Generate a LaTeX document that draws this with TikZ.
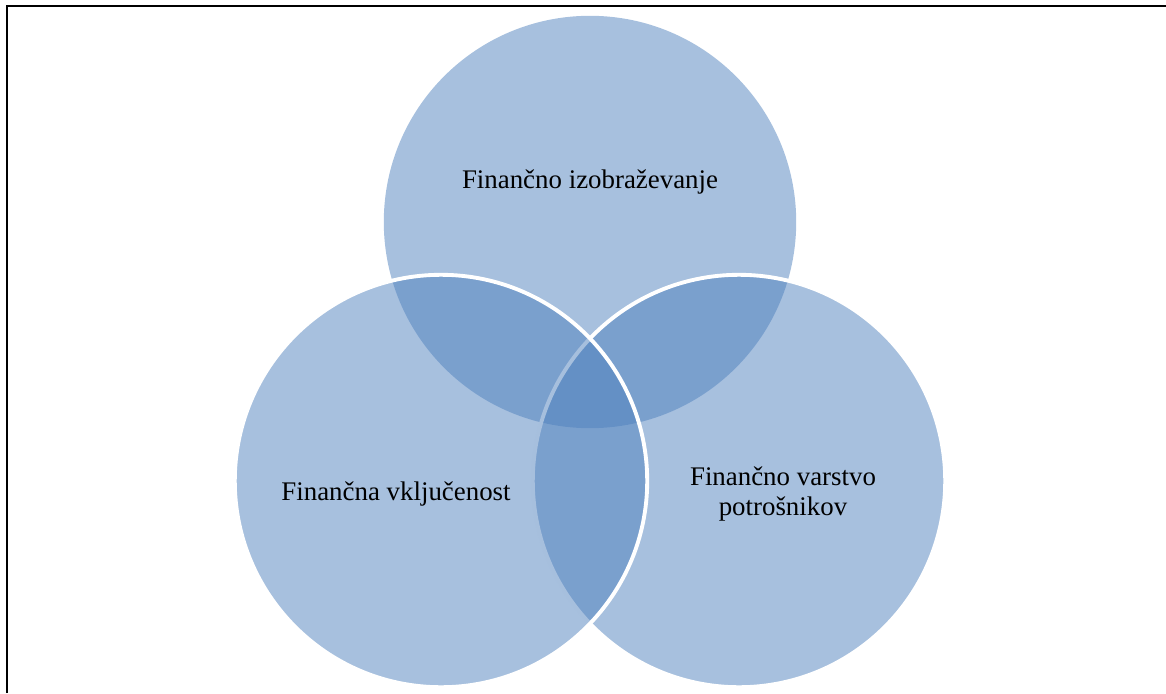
\documentclass[tikz,border=0pt]{standalone}
\usepackage{fontspec}
\setmainfont{Liberation Serif}
\usetikzlibrary{positioning,calc}
\definecolor{vennblue}{RGB}{79,129,189}
\tikzset{
    venn/.style={circle, fill=vennblue, fill opacity=0.5, minimum size=8.25cm, inner sep=0pt, outer sep=0pt},
    vennW/.style={venn, draw=white, draw opacity=1, line width=2.2pt},
    vlabel/.style={text=black, font=\fontsize{15.3}{17.5}\selectfont, align=center, inner sep=0pt},
    frame/.style={line width=1pt, black},
}
\begin{document}
\begin{tikzpicture}[x=0.02cm, y=-0.02cm]
    \useasboundingbox (0,0) rectangle (1166,693);
    % frame (top and left edge only)
    \coordinate (corner) at (7,6);
    \coordinate (frameR) at (1166,6);
    \coordinate (frameB) at (7,693);
    \draw[frame] (frameB) -- (corner) -- (frameR);
    % the three circles: top, right, left
    \node[venn] (izob) at (590,222) {};
    \node[vennW] (varstvo) at (739,481) {};
    \node[vennW] (vklj) at (441,481) {};
    % labels
    \node[vlabel] (izobT) at ($(izob)+(0,-40)$) {Finančno izobraževanje};
    \node[vlabel] (vkljT) at ($(vklj)+(-45,13)$) {Finančna vključenost};
    \node[vlabel] (varstvoT) at ($(varstvo)+(44,13)$) {Finančno varstvo\\potrošnikov};
\end{tikzpicture}
\end{document}
